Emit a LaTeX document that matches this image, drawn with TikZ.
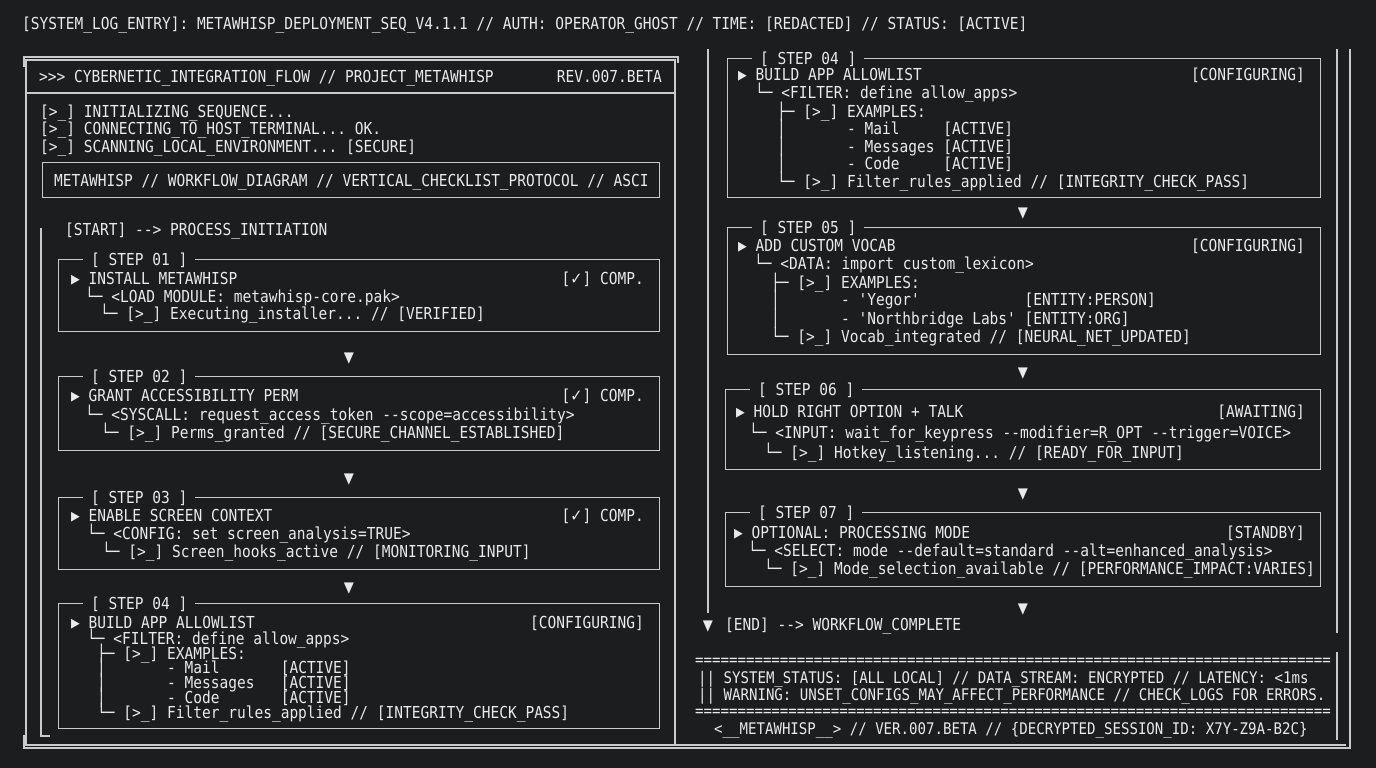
\documentclass[tikz,border=0pt]{standalone}
\usepackage{fontspec}
\setmonofont{DejaVu Sans Mono}[FakeStretch=0.88]
\newfontfamily\symb{DejaVu Sans}[FakeStretch=0.88]
\usetikzlibrary{positioning,calc}
\definecolor{bg}{HTML}{1B1D1F}
\definecolor{fg}{HTML}{EAEAEA}
\definecolor{ln}{HTML}{CACACA}
\newcommand{\fs}{\fontsize{16.5}{18}\selectfont}
\newcommand{\eqrow}{===========================================================================}
\tikzset{
  tx/.style={anchor=base west, inner sep=0pt, yshift=-6pt, text=fg, font=\ttfamily\fs},
  st/.style={tx, anchor=base east},
  ft/.style={tx, font=\ttfamily\fontsize{16}{18}\selectfont},
  dn/.style={tx, anchor=base, yshift=-1pt, font=\ttfamily\fontsize{19}{20}\selectfont},
  hd/.style={tx, fill=bg, inner xsep=8pt, inner ysep=2pt},
  bx/.style={draw=ln, line width=1.3pt, anchor=north west, inner sep=0pt},
  fr/.style={draw=ln, line width=1.3pt}
}
\begin{document}
\begin{tikzpicture}[x=1pt, y=-1pt]
	\useasboundingbox (0,0) rectangle (1376,768);
	\fill[bg] (0,0) rectangle (1376,768);

	\node[tx] (log) at (22,24) {[SYSTEM\_LOG\_ENTRY]: METAWHISP\_DEPLOYMENT\_SEQ\_V4.1.1 // AUTH: OPERATOR\_GHOST // TIME: [REDACTED] // STATUS: [ACTIVE]};

	% frames
	\draw[fr] (24,67) |- (678,57) -- (678,63);
	\draw[fr] (26,60) rectangle (675,745);
	\draw[fr] (1350,49) |- (24,748) -- (24,735);
	\draw[fr] (675,745) -- (1346,745);
	\draw[fr] (26,93) -- (675,93);
	\draw[fr] (1337,49) -- (1337,633);
	\draw[fr] (1337,652) -- (1337,740);

	% left panel
	\node[tx] (ptitle) at (39,76) {>{}>{}> CYBERNETIC\_INTEGRATION\_FLOW // PROJECT\_METAWHISP};
	\node[st] (prev) at (662,76) {REV.007.BETA};
	\node[tx] (init1) at (40,111) {[>\_] INITIALIZING\_SEQUENCE...};
	\node[tx] (init2) at (40,128) {[>\_] CONNECTING\_TO\_HOST\_TERMINAL... OK.};
	\node[tx] (init3) at (40,146) {[>\_] SCANNING\_LOCAL\_ENVIRONMENT... [SECURE]};
	\node[bx, minimum width=617pt, minimum height=35pt] (ban) at (42,162) {};
	\node[tx] (bantx) at (54,180) {METAWHISP // WORKFLOW\_DIAGRAM // VERTICAL\_CHECKLIST\_PROTOCOL // ASCI};
	\node[tx] (start) at (65,229) {[START] --> PROCESS\_INITIATION};
	\coordinate (ltop) at (41,228);
	\coordinate (lend) at (50,736);
	\draw[fr] (ltop) |- (lend);

	% step 01
	\node[bx, minimum width=601pt, minimum height=72pt] (s01) at (58,259) {};
	\node[hd] (s01h) at ([xshift=25pt]s01.north west) {[ STEP 01 ]};
	\node[tx] (s01a) at (71,278) {▶ INSTALL METAWHISP};
	\node[st] (s01s) at (644,278) {[{\symb ✓}] COMP.};
	\node[tx] (s01b) at (85,296) {└─ <LOAD MODULE: metawhisp-core.pak>};
	\node[tx] (s01c) at (100,313) {└─ [>\_] Executing\_installer... // [VERIFIED]};
	\node[dn] (d12) at (349,356) {▼};

	% step 02
	\node[bx, minimum width=601pt, minimum height=74pt] (s02) at (58,376) {};
	\node[hd] (s02h) at ([xshift=25pt]s02.north west) {[ STEP 02 ]};
	\node[tx] (s02a) at (71,395) {▶ GRANT ACCESSIBILITY PERM};
	\node[st] (s02s) at (644,395) {[{\symb ✓}] COMP.};
	\node[tx] (s02b) at (85,414) {└─ <SYSCALL: request\_access\_token --scope=accessibility>};
	\node[tx] (s02c) at (101,432) {└─ [>\_] Perms\_granted // [SECURE\_CHANNEL\_ESTABLISHED]};
	\node[dn] (d23) at (349,477) {▼};

	% step 03
	\node[bx, minimum width=601pt, minimum height=72pt] (s03) at (58,497) {};
	\node[hd] (s03h) at ([xshift=25pt]s03.north west) {[ STEP 03 ]};
	\node[tx] (s03a) at (71,515) {▶ ENABLE SCREEN CONTEXT};
	\node[st] (s03s) at (644,515) {[{\symb ✓}] COMP.};
	\node[tx] (s03b) at (87,533) {└─ <CONFIG: set screen\_analysis=TRUE>};
	\node[tx] (s03c) at (102,551) {└─ [>\_] Screen\_hooks\_active // [MONITORING\_INPUT]};
	\node[dn] (d34) at (349,586) {▼};

	% step 04 (left)
	\node[bx, minimum width=601pt, minimum height=125pt] (s04) at (58,603) {};
	\node[hd] (s04h) at ([xshift=25pt]s04.north west) {[ STEP 04 ]};
	\node[tx] (s04a) at (71,622) {▶ BUILD APP ALLOWLIST};
	\node[st] (s04s) at (644,622) {[CONFIGURING]};
	\node[tx] (s04b) at (87,638) {└─ <FILTER: define allow\_apps>};
	\node[tx] (s04c) at (97,653) {├─ [>\_] EXAMPLES:};
	\node[tx] (s04d) at (97,667) {│~~~~~~~- Mail~~~~~~~[ACTIVE]};
	\node[tx] (s04e) at (97,682) {│~~~~~~~- Messages~~~[ACTIVE]};
	\node[tx] (s04f) at (97,697) {│~~~~~~~- Code~~~~~~~[ACTIVE]};
	\node[tx] (s04g) at (97,712) {└─ [>\_] Filter\_rules\_applied // [INTEGRITY\_CHECK\_PASS]};

	% right panel
	\coordinate (rtop) at (708,49);
	\coordinate (rbot) at (708,613);
	\draw[fr] (rtop) -- (rbot);

	% step 04 (right)
	\node[bx, minimum width=593pt, minimum height=139pt] (r04) at (727,58) {};
	\node[hd] (r04h) at ([xshift=25pt]r04.north west) {[ STEP 04 ]};
	\node[tx] (r04a) at (738,75) {▶ BUILD APP ALLOWLIST};
	\node[st] (r04s) at (1305,75) {[CONFIGURING]};
	\node[tx] (r04b) at (755,93) {└─ <FILTER: define allow\_apps>};
	\node[tx] (r04c) at (777,111) {├─ [>\_] EXAMPLES:};
	\node[tx] (r04d) at (777,128) {│~~~~~~~- Mail~~~~~[ACTIVE]};
	\node[tx] (r04e) at (777,146) {│~~~~~~~- Messages~[ACTIVE]};
	\node[tx] (r04f) at (777,163) {│~~~~~~~- Code~~~~~[ACTIVE]};
	\node[tx] (r04g) at (777,181) {└─ [>\_] Filter\_rules\_applied // [INTEGRITY\_CHECK\_PASS]};
	\node[dn] (e45) at (1023,211) {▼};

	% step 05
	\node[bx, minimum width=593pt, minimum height=127pt] (r05) at (727,227) {};
	\node[hd] (r05h) at ([xshift=25pt]r05.north west) {[ STEP 05 ]};
	\node[tx] (r05a) at (738,245) {▶ ADD CUSTOM VOCAB};
	\node[st] (r05s) at (1305,245) {[CONFIGURING]};
	\node[tx] (r05b) at (754,263) {└─ <DATA: import custom\_lexicon>};
	\node[tx] (r05c) at (771,282) {├─ [>\_] EXAMPLES:};
	\node[tx] (r05d) at (771,299) {│~~~~~~~- 'Yegor'~~~~~~~~~~~~[ENTITY:PERSON]};
	\node[tx] (r05e) at (771,318) {│~~~~~~~- 'Northbridge Labs'~[ENTITY:ORG]};
	\node[tx] (r05f) at (771,336) {└─ [>\_] Vocab\_integrated // [NEURAL\_NET\_UPDATED]};
	\node[dn] (e56) at (1023,371) {▼};

	% step 06
	\node[bx, minimum width=595pt, minimum height=80pt] (r06) at (725,389) {};
	\node[hd] (r06h) at ([xshift=25pt]r06.north west) {[ STEP 06 ]};
	\node[tx] (r06a) at (736,411) {▶ HOLD RIGHT OPTION + TALK};
	\node[st] (r06s) at (1305,411) {[AWAITING]};
	\node[tx] (r06b) at (749,432) {└─ <INPUT: wait\_for\_keypress --modifier=R\_OPT --trigger=VOICE>};
	\node[tx] (r06c) at (764,452) {└─ [>\_] Hotkey\_listening... // [READY\_FOR\_INPUT]};
	\node[dn] (e67) at (1023,492) {▼};

	% step 07
	\node[bx, minimum width=595pt, minimum height=74pt] (r07) at (725,512) {};
	\node[hd] (r07h) at ([xshift=25pt]r07.north west) {[ STEP 07 ]};
	\node[tx] (r07a) at (734,532) {▶ OPTIONAL: PROCESSING MODE};
	\node[st] (r07s) at (1305,532) {[STANDBY]};
	\node[tx] (r07b) at (748,550) {└─ <SELECT: mode --default=standard --alt=enhanced\_analysis>};
	\node[tx] (r07c) at (764,568) {└─ [>\_] Mode\_selection\_available // [PERFORMANCE\_IMPACT:VARIES]};
	\node[dn] (e7x) at (1023,607) {▼};

	\node[dn] (enddn) at (708,624) {▼};
	\node[tx] (end) at (725,624) {[END] --> WORKFLOW\_COMPLETE};

	% footer
	\node[ft] (eq1) at (695,659) {\eqrow};
	\node[ft] (stat1) at (698,677) {|| SYSTEM\_STATUS: [ALL LOCAL] // DATA\_STREAM: ENCRYPTED // LATENCY: <1ms};
	\node[ft] (stat2) at (698,694) {|| WARNING: UNSET\_CONFIGS\_MAY\_AFFECT\_PERFORMANCE // CHECK\_LOGS FOR ERRORS.};
	\node[ft] (eq2) at (695,710) {\eqrow};
	\node[ft] (sig) at (714,728) {<\_\_METAWHISP\_\_> // VER.007.BETA // \{DECRYPTED\_SESSION\_ID: X7Y-Z9A-B2C\}};
\end{tikzpicture}
\end{document}
